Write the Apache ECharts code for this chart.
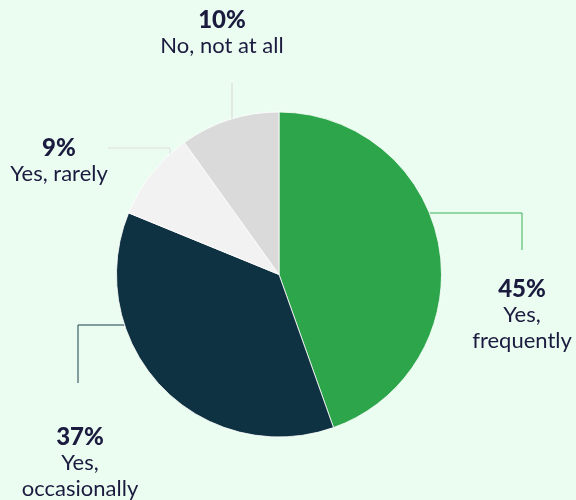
<!DOCTYPE html>
<html>
<head>
<meta charset="utf-8">
<script src="https://cdn.jsdelivr.net/npm/echarts@6/dist/echarts.min.js"></script>
<style>
  html, body { margin: 0; padding: 0; background: #eafdf0; }
  #chart { width: 576px; height: 500px; }
</style>
</head>
<body>
<div id="chart"></div>
<script>
// Survey answers, clockwise from 12 o'clock
const categories = ['Yes,\nfrequently', 'Yes,\noccasionally', 'Yes, rarely', 'No, not at all'];
const shares = [45, 37, 9, 10];
const sliceColors = ['#2da64b', '#0f3242', '#f2f2f2', '#dadada'];
const leaderColors = ['#3cb05a', '#1c3e4c', '#dedede', '#d6d6d6'];

// Pie geometry
const CX = 279, CY = 274.5, R = 162.5;

// Where each leader leaves the rim, where it bends, where it ends, and the label anchor.
// 'h' = leaves horizontally at a given y offset; 'v' = leaves vertically at a given x offset.
const leaders = [
  { leave: 'h', off: -61.5, side: 1,  bend: [522, 213], end: [522, 250], label: [522, 276] },
  { leave: 'h', off: 50.5,  side: -1, bend: [78, 325],  end: [78, 383],  label: [80, 424] },
  { leave: 'v', off: -109,  side: -1, bend: [170, 148], end: [108, 148], label: [59, 135] },
  { leave: 'v', off: -47,   side: -1, bend: null,       end: [232, 83],  label: [222, 7] }
];

function rimPoint(l) {
  if (l.leave === 'h') {
    const y = CY + l.off;
    return [CX + l.side * Math.sqrt(R * R - l.off * l.off), y];
  }
  const x = CX + l.off;
  return [x, CY + l.side * Math.sqrt(R * R - l.off * l.off)];
}

const chart = echarts.init(document.getElementById('chart'), null, { renderer: 'canvas' });

chart.setOption({
  backgroundColor: '#eafdf0',
  animation: false,
  series: [{
    type: 'pie',
    center: [CX, CY],
    radius: R,
    startAngle: 90,
    clockwise: true,
    data: categories.map((name, i) => ({
      name: name,
      value: shares[i],
      itemStyle: { color: sliceColors[i] },
      labelLine: { lineStyle: { color: leaderColors[i], width: 1 } }
    })),
    itemStyle: { borderColor: '#ffffff', borderWidth: 0.8 },
    label: {
      show: true,
      overflow: 'none',
      formatter: p => '{p|' + p.value + '%}\n{n|' + p.name.split('\n').join('}\n{n|') + '}',
      align: 'center',
      rich: {
        p: { fontFamily: 'Lato', fontWeight: 900, fontSize: 24, color: '#1b1a3f', lineHeight: 26, align: 'center' },
        n: { fontFamily: 'Lato', fontWeight: 400, fontSize: 22, color: '#1b1a3f', lineHeight: 26, align: 'center' }
      }
    },
    labelLine: { show: true, smooth: false },
    labelLayout: params => {
      const l = leaders[params.dataIndex];
      const start = rimPoint(l);
      const pts = l.bend ? [start, l.bend, l.end] : [start, l.end];
      return {
        x: l.label[0],
        y: l.label[1],
        align: 'center',
        verticalAlign: 'top',
        labelLinePoints: pts
      };
    },
    emphasis: { disabled: true }
  }]
});
</script>
</body>
</html>
